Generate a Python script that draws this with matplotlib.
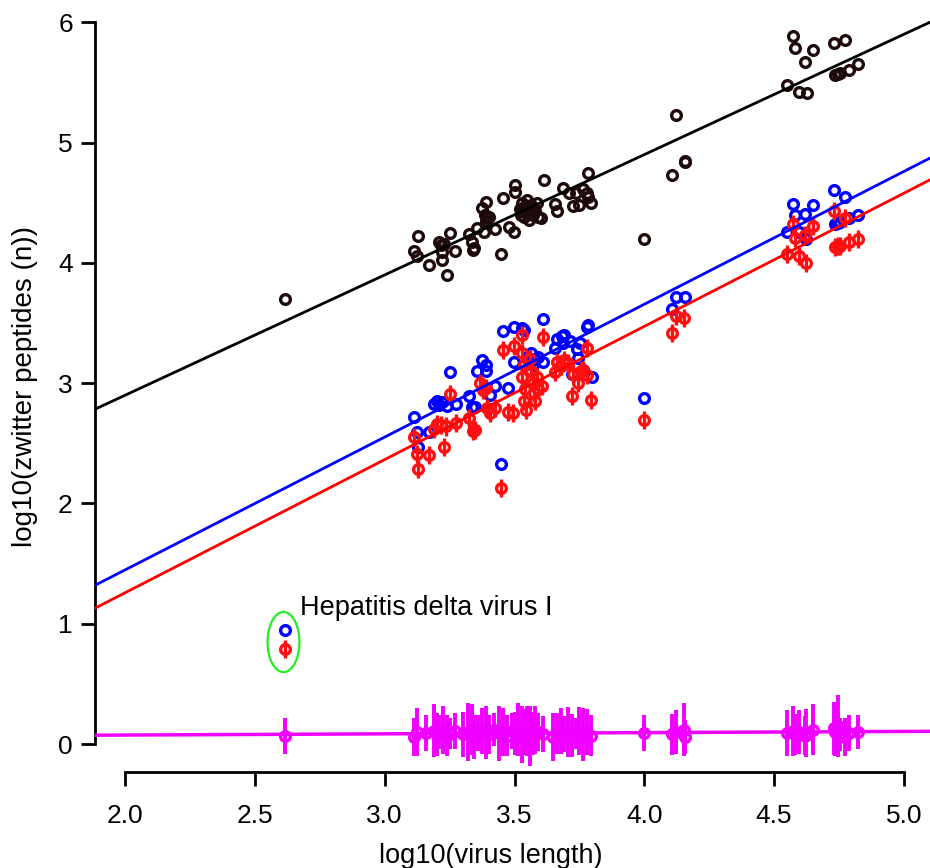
import matplotlib
matplotlib.use("Agg")
import matplotlib.pyplot as plt
import numpy as np
from matplotlib.patches import Ellipse

plt.rcParams['font.family'] = ['Liberation Sans', 'DejaVu Sans']

# log10(virus length) vs log10(peptide counts), one entry per virus and series
black_x = [2.616, 3.112, 3.123, 3.128, 3.169, 3.208, 3.215, 3.228, 3.22, 3.22, 3.239, 3.251,
           3.272, 3.326, 3.336, 3.34, 3.345, 3.356, 3.375, 3.39, 3.385, 3.395, 3.39, 3.40,
           3.382, 3.426, 3.447, 3.457, 3.477, 3.498, 3.50, 3.50, 3.52, 3.525, 3.53, 3.535,
           3.54, 3.545, 3.55, 3.555, 3.56, 3.565, 3.57, 3.575, 3.58, 3.585, 3.59, 3.53, 3.55,
           3.603, 3.613, 3.657, 3.662, 3.685, 3.71, 3.736, 3.763, 3.778, 3.724, 3.75, 3.783,
           3.796, 3.783, 4.0, 4.108, 4.122, 4.155, 4.158, 4.551, 4.573, 4.58, 4.597, 4.62,
           4.626, 4.649, 4.732, 4.735, 4.745, 4.755, 4.772, 4.79, 4.823]
black_y = [3.70, 4.10, 4.06, 4.22, 3.985, 4.175, 4.15, 4.16, 4.02, 4.09, 3.90, 4.25,
           4.10, 4.24, 4.17, 4.11, 4.12, 4.29, 4.46, 4.51, 4.40, 4.37, 4.35, 4.38,
           4.26, 4.28, 4.07, 4.54, 4.30, 4.26, 4.65, 4.59, 4.45, 4.40, 4.50, 4.38,
           4.47, 4.42, 4.52, 4.36, 4.44, 4.48, 4.40, 4.46, 4.43, 4.50, 4.38, 4.43, 4.46,
           4.37, 4.69, 4.49, 4.43, 4.62, 4.58, 4.58, 4.61, 4.58, 4.47, 4.48, 4.75,
           4.50, 4.55, 4.195, 4.73, 5.23, 4.84, 4.85, 5.48, 5.89, 5.79, 5.42, 5.67,
           5.41, 5.77, 5.83, 5.56, 5.57, 5.58, 5.85, 5.60, 5.65]

blue_x = [2.616, 3.114, 3.123, 3.129, 3.169, 3.19, 3.20, 3.21, 3.22, 3.239, 3.251, 3.274,
          3.326, 3.338, 3.346, 3.356, 3.373, 3.39, 3.39, 3.405, 3.425, 3.447, 3.457, 3.476,
          3.499, 3.499, 3.53, 3.537, 3.55, 3.56, 3.565, 3.57, 3.58, 3.59, 3.608, 3.611,
          3.656, 3.662, 3.683, 3.69, 3.685, 3.714, 3.72, 3.742, 3.746, 3.752, 3.765, 3.781,
          3.785, 3.797, 4.0, 4.107, 4.122, 4.157, 4.549, 4.573, 4.58, 4.597, 4.62, 4.622,
          4.649, 4.732, 4.735, 4.745, 4.755, 4.774, 4.79, 4.822]
blue_y = [0.95, 2.72, 2.59, 2.47, 2.59, 2.83, 2.85, 2.82, 2.84, 2.81, 3.095, 2.83,
          2.89, 2.80, 2.80, 3.10, 3.19, 3.15, 3.10, 2.90, 2.98, 2.33, 3.43, 2.96,
          3.47, 3.18, 3.46, 3.44, 3.22, 3.18, 3.25, 3.15, 3.20, 3.22, 3.18, 3.53,
          3.29, 3.37, 3.39, 3.40, 3.33, 3.35, 3.08, 3.28, 3.21, 3.33, 3.11, 3.47,
          3.48, 3.05, 2.875, 3.62, 3.72, 3.72, 4.26, 4.49, 4.40, 4.26, 4.41, 4.20,
          4.48, 4.605, 4.32, 4.33, 4.34, 4.55, 4.37, 4.40]

red_x = [2.616, 3.113, 3.125, 3.129, 3.169, 3.19, 3.20, 3.215, 3.235, 3.229, 3.251, 3.274,
         3.326, 3.34, 3.348, 3.367, 3.38, 3.39, 3.395, 3.405, 3.425, 3.447, 3.457, 3.476,
         3.495, 3.499, 3.528, 3.53, 3.535, 3.53, 3.54, 3.535, 3.545, 3.56, 3.565, 3.57,
         3.575, 3.58, 3.585, 3.59, 3.605, 3.611, 3.656, 3.665, 3.68, 3.69, 3.705, 3.72,
         3.725, 3.746, 3.755, 3.765, 3.778, 3.78, 3.793, 4.0, 4.107, 4.122, 4.153, 4.549,
         4.573, 4.58, 4.597, 4.618, 4.623, 4.649, 4.732, 4.735, 4.745, 4.755, 4.774, 4.79,
         4.823]
red_y = [0.79, 2.555, 2.41, 2.29, 2.40, 2.62, 2.66, 2.65, 2.64, 2.47, 2.91, 2.67,
         2.71, 2.60, 2.61, 3.00, 2.94, 2.96, 2.79, 2.75, 2.79, 2.13, 3.275, 2.76,
         2.75, 3.31, 3.40, 3.25, 3.15, 3.05, 2.95, 2.85, 2.78, 3.20, 3.10, 3.00,
         2.92, 2.85, 3.05, 2.95, 2.98, 3.38, 3.095, 3.18, 3.14, 3.19, 3.17, 2.89,
         3.08, 3.00, 3.10, 3.11, 3.07, 3.29, 2.86, 2.69, 3.42, 3.56, 3.54, 4.07,
         4.32, 4.21, 4.06, 4.23, 4.00, 4.31, 4.43, 4.13, 4.14, 4.14, 4.37, 4.17,
         4.20]
red_err = 0.075

magenta_x = [2.616, 3.114, 3.125, 3.16, 3.19, 3.20, 3.21, 3.225, 3.24, 3.25, 3.27, 3.30,
             3.32, 3.335, 3.345, 3.36, 3.375, 3.39, 3.40, 3.42, 3.44, 3.455, 3.47, 3.49,
             3.50, 3.515, 3.53, 3.54, 3.55, 3.56, 3.57, 3.58, 3.59, 3.61, 3.65, 3.665,
             3.68, 3.69, 3.705, 3.72, 3.735, 3.75, 3.765, 3.78, 3.795, 4.0, 4.107, 4.122,
             4.153, 4.157, 4.549, 4.573, 4.58, 4.597, 4.618, 4.623, 4.649, 4.732, 4.735,
             4.745, 4.755, 4.774, 4.79, 4.823]
magenta_y = [0.07, 0.06, 0.10, 0.09, 0.11, 0.08, 0.10, 0.12, 0.07, 0.09, 0.11, 0.08,
             0.10, 0.12, 0.06, 0.09, 0.11, 0.10, 0.08, 0.12, 0.09, 0.10, 0.07, 0.11,
             0.09, 0.12, 0.08, 0.10, 0.11, 0.07, 0.09, 0.12, 0.10, 0.08, 0.06, 0.09,
             0.11, 0.08, 0.10, 0.07, 0.09, 0.11, 0.08, 0.10, 0.07, 0.09, 0.08, 0.10,
             0.12, 0.06, 0.09, 0.11, 0.08, 0.10, 0.07, 0.09, 0.12, 0.13, 0.10, 0.15,
             0.08, 0.06, 0.09, 0.10]
magenta_err = [0.15, 0.16, 0.20, 0.15, 0.22, 0.18, 0.14, 0.20, 0.17, 0.13, 0.15, 0.19,
               0.24, 0.21, 0.18, 0.15, 0.19, 0.22, 0.16, 0.14, 0.23, 0.20, 0.17, 0.15,
               0.18, 0.22, 0.24, 0.19, 0.21, 0.25, 0.18, 0.20, 0.16, 0.15, 0.20, 0.17,
               0.19, 0.15, 0.21, 0.18, 0.13, 0.20, 0.22, 0.19, 0.17, 0.15, 0.17, 0.18,
               0.22, 0.14, 0.19, 0.21, 0.17, 0.18, 0.16, 0.20, 0.21, 0.22, 0.20, 0.26,
               0.14, 0.16, 0.15, 0.14]

# regression lines: slope, intercept
fits = {
    'black': (1.0, 0.90),
    'blue': (1.104, -0.76),
    'red': (1.107, -0.956),
    'magenta': (0.010, 0.055),
}
fit_colors = {'black': '#000000', 'blue': '#0000ff', 'red': '#ff0000', 'magenta': '#f000ff'}

fig = plt.figure(figsize=(9.3, 8.68), dpi=100)
ax = fig.add_axes([0.1022, 0.1109, 0.8976, 0.8662])

ax.plot(black_x, black_y, 'o', ms=7, mfc='none', mec='#1e0a0a', mew=2.4, zorder=3)
ax.plot(blue_x, blue_y, 'o', ms=7, mfc='none', mec='#0000ff', mew=2.4, zorder=3)
ax.errorbar(red_x, red_y, yerr=red_err, fmt='o', ms=7, mfc='none', mec='#ff1010',
            mew=2.4, ecolor='#ff1010', elinewidth=2.4, capsize=0, zorder=4)
ax.errorbar(magenta_x, magenta_y, yerr=magenta_err, fmt='o', ms=7, mfc='none',
            mec='#f000ff', mew=2.4, ecolor='#f000ff', elinewidth=2.8, capsize=0, zorder=4)

xs = np.array([1.884, 5.10])
for name, (m, b) in fits.items():
    ax.plot(xs, m * xs + b, color=fit_colors[name], lw=2.0 if name != 'magenta' else 2.5,
            zorder=5)

ax.add_patch(Ellipse((2.610, 0.848), 0.123, 0.50, fill=False, ec='#22ee22', lw=1.6, zorder=6))
ax.text(2.674, 1.13, 'Hepatitis delta virus I', fontsize=19.5, va='center', ha='left')

ax.set_xlim(1.884, 5.10)
ax.set_ylim(-0.230, 6.02)
ax.set_xticks([2.0, 2.5, 3.0, 3.5, 4.0, 4.5, 5.0])
ax.set_xticklabels(['2.0', '2.5', '3.0', '3.5', '4.0', '4.5', '5.0'])
ax.set_yticks([0, 1, 2, 3, 4, 5, 6])

for s in ['top', 'right']:
    ax.spines[s].set_visible(False)
ax.spines['left'].set_bounds(0, 6)
ax.spines['bottom'].set_bounds(2.0, 5.0)
ax.spines['left'].set_linewidth(2.0)
ax.spines['bottom'].set_linewidth(2.0)
ax.tick_params(axis='both', direction='out', length=10, width=2.0, labelsize=19)
ax.tick_params(axis='x', pad=13)
ax.tick_params(axis='y', pad=6)

ax.set_xlabel('log10(virus length)', fontsize=19.5)
ax.set_ylabel('log10(zwitter peptides (n))', fontsize=20)
ax.xaxis.set_label_coords(0.474, -0.095)
ax.yaxis.set_label_coords(-0.068, 0.512)

fig.savefig('out.png', dpi=100)
